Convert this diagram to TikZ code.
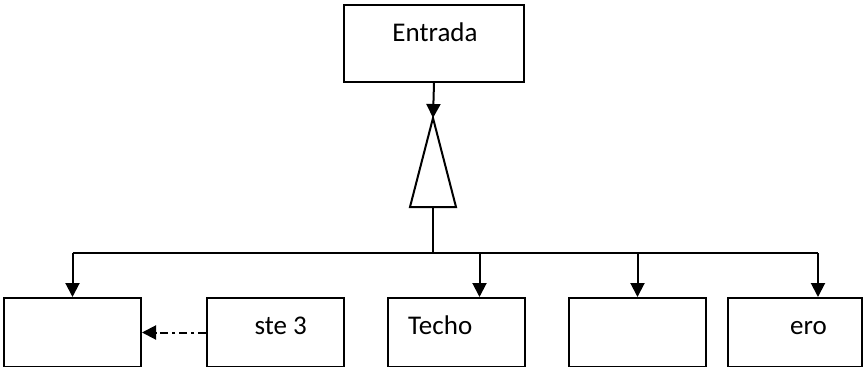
\documentclass[tikz,border=0pt]{standalone}
\usepackage{fontspec}
\setmainfont{Carlito}
\usetikzlibrary{arrows.meta}
\usetikzlibrary{positioning}

\begin{document}
\begin{tikzpicture}[x=1pt,y=-1pt,
      caja/.style={draw, line width=2pt, minimum width=137pt, minimum height=69pt,
        inner sep=0pt, anchor=north west},
      texto/.style={font=\fontsize{27}{32}\selectfont, inner sep=0pt},
      linea/.style={line width=2pt},
      flecha/.style={linea, -{Triangle[length=14pt,width=14pt]}}]
      \useasboundingbox (0,0) rectangle (863,367);

      % cajas
      \node[caja, minimum width=180pt, minimum height=77pt] (entrada) at (343,4) {};
      \node[caja] (caja1) at (3,297) {};
      \node[caja] (caja2) at (206,297) {};
      \node[caja] (techo) at (387,297) {};
      \node[caja] (caja4) at (568,297) {};
      \node[caja, minimum width=134pt] (caja5) at (727,297) {};

      \node[texto, anchor=base] (entrada-t) at (435,41) {Entrada};
      \node[texto, anchor=base east] (caja2-t) at (307,334) {ste 3};
      \node[texto, anchor=base west] (techo-t) at (408,334) {Techo};
      \node[texto, anchor=base east] (caja5-t) at (827,334) {ero};

      % triangulo
      \coordinate (apex) at (433,118);
      \coordinate (base) at (433,207);
      \coordinate (bus) at (433,253);
      \draw[linea, line join=miter] (apex) -- (410,207) -- (456,207) -- cycle;
      \draw[flecha] (entrada.south) -- (apex);
      \draw[linea] (base) -- (bus);

      % distribucion
      \draw[linea] (caja1.north |- bus) -- ([xshift=23pt]caja5.north |- bus);
      \draw[flecha] (caja1.north |- bus) -- (caja1.north);
      \draw[flecha] ([xshift=23pt]techo.north |- bus) -- ([xshift=23pt]techo.north);
      \draw[flecha] (caja4.north |- bus) -- (caja4.north);
      \draw[flecha] ([xshift=23pt]caja5.north |- bus) -- ([xshift=23pt]caja5.north);

      \draw[flecha, dash pattern=on 8pt off 4pt on 3pt off 4pt] (caja2.west) -- (caja1.east);
    \end{tikzpicture}
\end{document}
